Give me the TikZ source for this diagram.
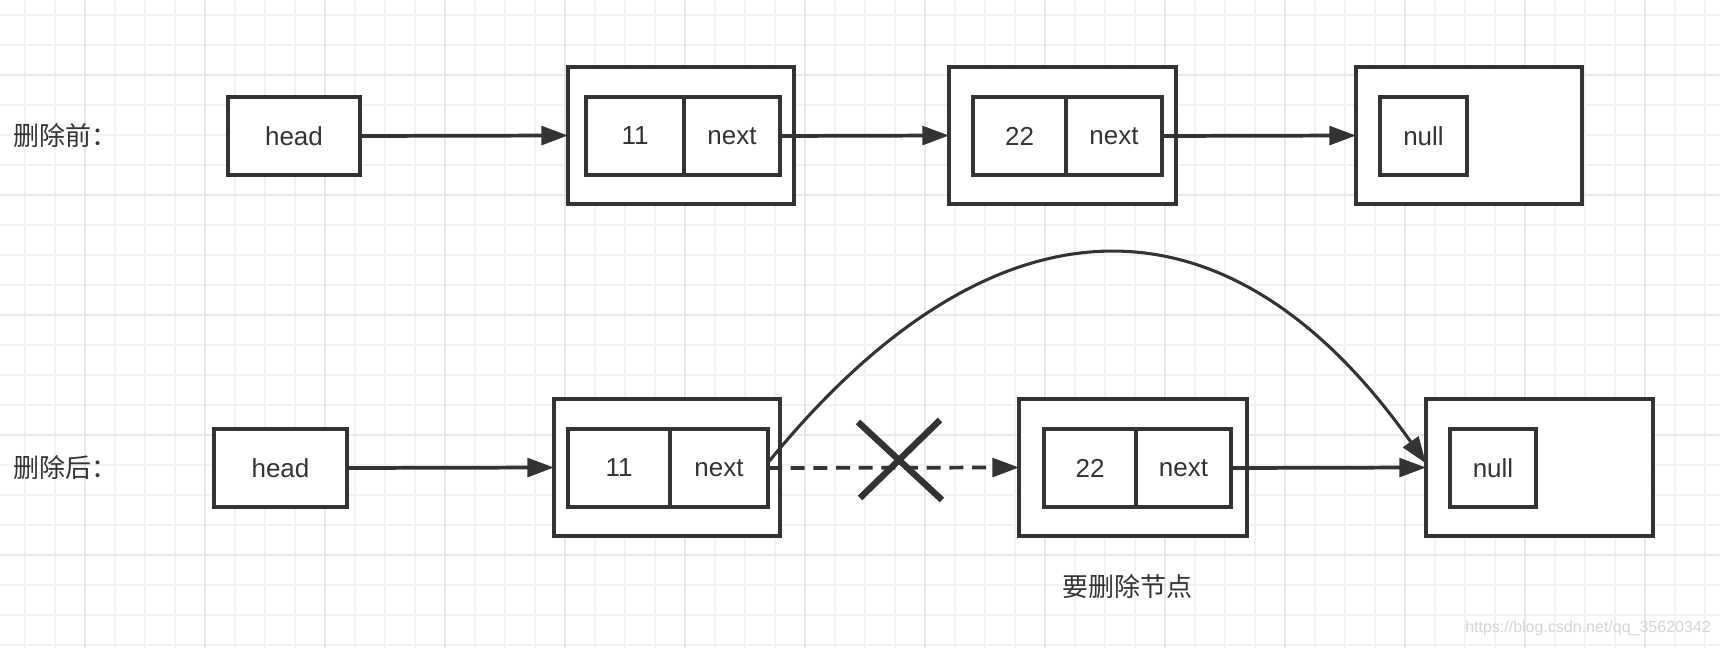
\documentclass[tikz,border=0pt]{standalone}
\usepackage{fontspec}
\setmainfont{Liberation Sans}
\newfontfamily\cjk{Noto Sans CJK SC}
\usetikzlibrary{arrows.meta}
\definecolor{ink}{HTML}{333333}
\definecolor{gridminor}{HTML}{F2F2F2}
\definecolor{gridmajor}{HTML}{E8E8E8}
\definecolor{wmark}{HTML}{D6D6D6}
\tikzset{
  cell/.style 2 args={draw=ink, fill=white, line width=2.8pt, inner sep=0pt, outer sep=0pt,
    minimum width=#1*0.75pt, minimum height=#2*0.75pt, text=ink,
    font=\fontsize{19.5}{23}\selectfont},
  lbl/.style={text=ink, inner sep=0pt, font=\cjk\fontsize{19.5}{23}\selectfont},
  link/.style={draw=ink, line width=2.8pt, -{Triangle[length=20pt,width=14pt]}},
  curvelink/.style={draw=ink, line width=2.3pt, -{Triangle[length=20pt,width=14pt]}},
  dashlink/.style={link, dash pattern=on 10.5pt off 6.5pt},
  xmark/.style={draw=ink, line width=4.8pt},
}
\begin{document}
\begin{tikzpicture}[x=0.75pt,y=-0.75pt]
\useasboundingbox (0,0) rectangle (1720,648);
\fill[white] (0,0) rectangle (1720,648);
% grid
\foreach \gx in {25,55,...,1705} \draw[gridminor, line width=1pt] (\gx,0) -- (\gx,648);
\foreach \gy in {15,45,...,645} \draw[gridminor, line width=1pt] (0,\gy) -- (1720,\gy);
\foreach \gx in {85,205,...,1645} \draw[gridmajor, line width=1pt] (\gx,0) -- (\gx,648);
\foreach \gy in {75,195,...,555} \draw[gridmajor, line width=1pt] (0,\gy) -- (1720,\gy);

% ---- top row: before deletion
\node[lbl, anchor=west] (lbl1) at (13,136) {删除前：};
\node[cell={132}{78}] (h1) at (294,136) {head};
\node[cell={226}{137}] (o1) at (681,135.5) {};
\node[cell={98}{78}] (a1) at (635,136) {11};
\node[cell={96}{78}] (n1) at (732,136) {next};
\node[cell={227}{137}] (o2) at (1062.5,135.5) {};
\node[cell={93}{78}] (a2) at (1019.5,136) {22};
\node[cell={96}{78}] (n2) at (1114,136) {next};
\node[cell={226}{137}] (o3) at (1469,135.5) {};
\node[cell={87}{78}] (z3) at (1423.5,136) {null};

\draw[link] (h1.east) -- (o1.west);
\draw[link] (n1.east) -- (o2.west);
\draw[link] (n2.east) -- (o3.west);

% ---- bottom row: after deletion
\node[lbl, anchor=west] (lbl2) at (13,468) {删除后：};
\node[cell={133}{78}] (h2) at (280.5,468) {head};
\node[cell={226}{137}] (p1) at (667,467.5) {};
\node[cell={102}{78}] (b1) at (619,468) {11};
\node[cell={98}{78}] (m1) at (719,468) {next};
\node[cell={228}{137}] (p2) at (1133,467.5) {};
\node[cell={92}{78}] (b2) at (1090,468) {22};
\node[cell={95}{78}] (m2) at (1183.5,468) {next};
\node[cell={227}{137}] (p3) at (1539.5,467.5) {};
\node[cell={86}{78}] (y3) at (1493,468) {null};

\node[lbl] (del) at (1127,587) {要删除节点};

\draw[link] (h2.east) -- (p1.west);
\draw[dashlink] (m1.east) -- (p2.west);
\draw[link] (m2.east) -- (p3.west);
\draw[curvelink] ([yshift=4pt]m1.east) .. controls (995,184) and (1229,184) .. ([yshift=3pt]p3.west);

% cross over the removed link
\draw[xmark] (858,422) -- (942,500);
\draw[xmark] (940,420) -- (860,498);

% watermark
\node[text=wmark, inner sep=0pt, font=\fontsize{12}{14}\selectfont] (wm) at (1588,628) {https://blog.csdn.net/qq\_35620342};
\end{tikzpicture}
\end{document}
